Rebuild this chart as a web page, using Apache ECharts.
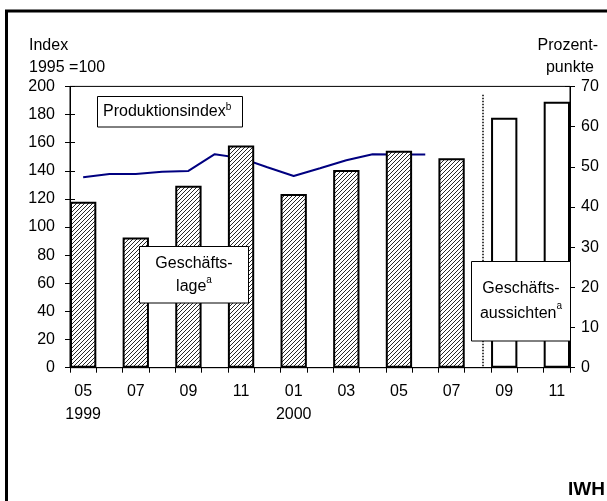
<!DOCTYPE html>
<html><head><meta charset="utf-8">
<script src="https://cdn.jsdelivr.net/npm/echarts@6/dist/echarts.min.js"></script>
<style>html,body{margin:0;padding:0;background:#fff}#c{width:607px;height:501px}</style>
</head><body><div id="c"></div>
<script>
// ---- data ----
const months = ['05','06','07','08','09','10','11','12','01','02','03','04','05','06','07','08','09','10','11'];
const years  = ['1999','','','','','','','','2000','','','','','','','','','',''];
const lageIndex = [0, 2, 4, 6, 8, 10, 12, 14];
const lageValues = [41.3, 32.4, 45.3, 55.3, 43.2, 49.2, 54.0, 52.1];
const aussichtenIndex = [16, 18];
const aussichtenValues = [62.2, 66.2];
const produktionsindex = [135.4, 137.8, 137.8, 139.4, 139.9, 151.8, 149.0, 142.5, 136.3, 141.8, 147.5, 151.8, 151.5, 151.5];
const leftAxis = {min: 0, max: 200, step: 20};
const rightAxis = {min: 0, max: 70, step: 10};
const separatorMonth = 15.7;   // between 07 and 09 (2000), in month slots
const separatorTop = 67.9;     // in Prozentpunkte

const FONT = 'Liberation Sans, Arial, sans-serif';
const FS = 16;

function hatch() {
  const c = document.createElement('canvas');
  c.width = 4; c.height = 4;
  const g = c.getContext('2d');
  g.fillStyle = '#fff'; g.fillRect(0, 0, 4, 4);
  g.strokeStyle = '#111'; g.lineWidth = 0.9;
  g.beginPath();
  g.moveTo(-1, 5); g.lineTo(5, -1);
  g.moveTo(-1, 1); g.lineTo(1, -1);
  g.moveTo(3, 5); g.lineTo(5, 3);
  g.stroke();
  return c;
}

function spread(idx, vals) {
  const arr = months.map(() => '-');
  idx.forEach((k, i) => { arr[k] = vals[i]; });
  return arr;
}

const chart = echarts.init(document.getElementById('c'), null, {renderer: 'canvas'});

const axisCommon = {
  splitLine: {show: false},
  axisLine: {show: true, lineStyle: {color: '#000', width: 1}},
  axisTick: {show: true, length: 5, lineStyle: {color: '#000', width: 1}}
};

const option = {
  animation: false,
  backgroundColor: '#fff',
  textStyle: {fontFamily: FONT},
  grid: {left: 70, right: 37, top: 86.4, bottom: 133.3, show: true, borderColor: '#000', borderWidth: 1, backgroundColor: 'transparent'},
  xAxis: [
    {
      type: 'category', data: months, boundaryGap: true,
      axisLine: {show: true, lineStyle: {color: '#000', width: 1}},
      axisTick: {show: true, interval: 0, length: 5, lineStyle: {color: '#000'}},
      axisLabel: {
        interval: 0, color: '#000', fontSize: FS, fontFamily: FONT, margin: 12, lineHeight: 23,
        formatter: (v, i) => (i % 2 === 0 ? months[i] + (years[i] ? '\n' + years[i] : '') : '')
      },
      splitLine: {show: false}
    },
    {type: 'value', min: 0, max: months.length, show: false}
  ],
  yAxis: [
    Object.assign({}, axisCommon, {type: 'value', position: 'left', min: leftAxis.min, max: leftAxis.max, interval: leftAxis.step,
      axisLabel: {color: '#000', fontSize: FS, fontFamily: FONT, margin: 15}}),
    Object.assign({}, axisCommon, {type: 'value', position: 'right', min: rightAxis.min, max: rightAxis.max, interval: rightAxis.step,
      axisLabel: {color: '#000', fontSize: FS, fontFamily: FONT, margin: 11}}),
    {type: 'value', position: 'left', min: leftAxis.min, max: leftAxis.max, interval: leftAxis.step,
      axisLine: {show: false}, axisLabel: {show: false}, splitLine: {show: false},
      axisTick: {show: true, inside: true, length: 5, lineStyle: {color: '#000'}}},
    {type: 'value', position: 'right', min: rightAxis.min, max: rightAxis.max, interval: rightAxis.step,
      axisLine: {show: false}, axisLabel: {show: false}, splitLine: {show: false},
      axisTick: {show: true, inside: true, length: 5, lineStyle: {color: '#000'}}}
  ],
  series: [
    {
      name: 'Produktionsindex', type: 'line', xAxisIndex: 0, yAxisIndex: 0, z: 2,
      data: produktionsindex, symbol: 'none', smooth: false,
      lineStyle: {color: '#000080', width: 2}
    },
    {
      name: 'Geschäftslage', type: 'bar', xAxisIndex: 0, yAxisIndex: 1, z: 3,
      data: spread(lageIndex, lageValues), barWidth: '100%', barGap: '-100%',
      itemStyle: {color: {image: hatch(), repeat: 'repeat'}, borderColor: '#000', borderWidth: 2}
    },
    {
      name: 'Geschäftsaussichten', type: 'bar', xAxisIndex: 0, yAxisIndex: 1, z: 3,
      data: spread(aussichtenIndex, aussichtenValues), barWidth: '100%', barGap: '-100%',
      itemStyle: {color: '#fff', borderColor: '#000', borderWidth: 2}
    },
    {
      name: 'sep', type: 'line', xAxisIndex: 1, yAxisIndex: 1, data: [], z: 4,
      markLine: {
        silent: true, symbol: 'none', label: {show: false}, animation: false,
        lineStyle: {type: 'dotted', color: '#000', width: 1.5},
        data: [[{coord: [separatorMonth, separatorTop]}, {coord: [separatorMonth, 0]}]]
      }
    }
  ],
  graphic: [
    {type: 'polyline', shape: {points: [[6.5, 501], [6.5, 11], [607, 11]]}, style: {stroke: '#000', lineWidth: 3, fill: null}, z: 10},
    {type: 'text', x: 29, y: 46, style: {text: 'Index', font: FS + 'px ' + FONT, fill: '#000', verticalAlign: 'middle'}},
    {type: 'text', x: 29, y: 67.5, style: {text: '1995 =100', font: FS + 'px ' + FONT, fill: '#000', verticalAlign: 'middle'}},
    {type: 'text', x: 598, y: 46, style: {text: 'Prozent-', font: FS + 'px ' + FONT, fill: '#000', align: 'right', verticalAlign: 'middle'}},
    {type: 'text', x: 594, y: 67.5, style: {text: 'punkte', font: FS + 'px ' + FONT, fill: '#000', align: 'right', verticalAlign: 'middle'}},
    {type: 'text', x: 605, y: 490, style: {text: 'IWH', font: 'bold 19px ' + FONT, fill: '#000', align: 'right', verticalAlign: 'middle'}},
    // Produktionsindex box
    {type: 'rect', shape: {x: 97.5, y: 96.5, width: 145, height: 30.5}, style: {fill: '#fff', stroke: '#000', lineWidth: 1}, z: 20},
    {type: 'text', x: 103, y: 112, z: 21, style: {
      text: '{n|Produktionsindex}{s|b}', verticalAlign: 'middle', fill: '#000',
      rich: {n: {fontSize: FS, fontFamily: FONT, lineHeight: 20, fill: '#000'}, s: {fontSize: 10, fontFamily: FONT, lineHeight: 12, verticalAlign: 'top', fill: '#000'}}}},
    // Geschäftslage box
    {type: 'rect', shape: {x: 139.5, y: 246.5, width: 109, height: 56.5}, style: {fill: '#fff', stroke: '#000', lineWidth: 1}, z: 20},
    {type: 'text', x: 194, y: 275, z: 21, style: {
      text: '{n|Geschäfts-}\n{n|lage}{s|a}', align: 'center', verticalAlign: 'middle', fill: '#000',
      rich: {n: {fontSize: FS, fontFamily: FONT, lineHeight: 23.5, fill: '#000'}, s: {fontSize: 10, fontFamily: FONT, lineHeight: 14, verticalAlign: 'top', fill: '#000'}}}},
    // Geschäftsaussichten box
    {type: 'rect', shape: {x: 471.5, y: 261.5, width: 99, height: 79.5}, style: {fill: '#fff', stroke: '#000', lineWidth: 1}, z: 20},
    {type: 'text', x: 521, y: 301, z: 21, style: {
      text: '{n|Geschäfts-}\n{n|aussichten}{s|a}', align: 'center', verticalAlign: 'middle', fill: '#000',
      rich: {n: {fontSize: FS, fontFamily: FONT, lineHeight: 25.5, fill: '#000'}, s: {fontSize: 10, fontFamily: FONT, lineHeight: 14, verticalAlign: 'top', fill: '#000'}}}}
  ]
};
chart.setOption(option);
</script>
</body></html>
